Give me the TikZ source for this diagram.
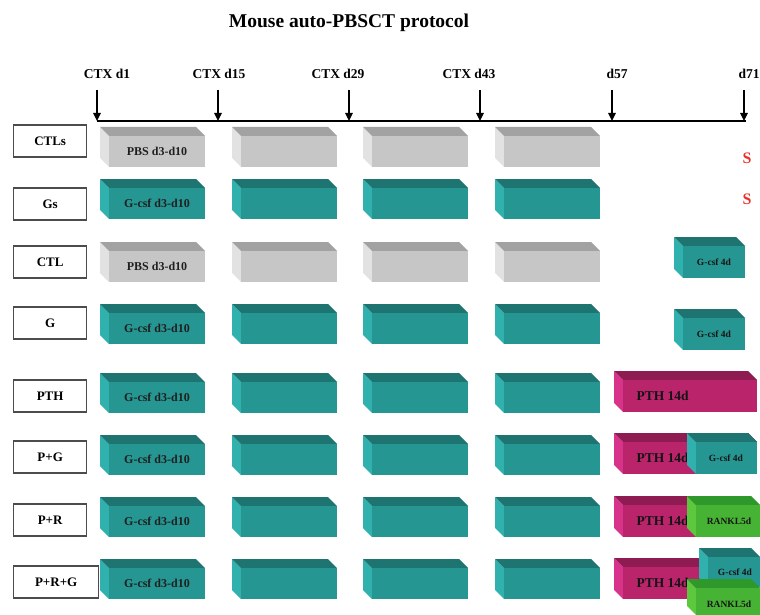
\documentclass[tikz,border=0pt]{standalone}
\usepackage{fontspec}
\setmainfont{Liberation Serif}
\usetikzlibrary{arrows.meta,positioning}
\definecolor{grayfront}{HTML}{C6C6C6}
\definecolor{graytop}{HTML}{A2A2A2}
\definecolor{grayside}{HTML}{E2E2E2}
\definecolor{tealfront}{HTML}{269692}
\definecolor{tealtop}{HTML}{1D7471}
\definecolor{tealside}{HTML}{31B1AE}
\definecolor{pinkfront}{HTML}{B9246B}
\definecolor{pinktop}{HTML}{8E1B51}
\definecolor{pinkside}{HTML}{D7338A}
\definecolor{greenfront}{HTML}{47B335}
\definecolor{greentop}{HTML}{2E982B}
\definecolor{greenside}{HTML}{5DC83E}
\definecolor{sred}{HTML}{E8312A}
\tikzset{
  rowlbl/.style={draw=black!70, line width=1.3pt, fill=white, minimum height=32pt,
    inner sep=0pt, anchor=west, font=\fontsize{13}{15}\selectfont\bfseries},
  daylbl/.style={anchor=base, font=\fontsize{13.5}{16}\selectfont\bfseries},
  slabtxt/.style={text=black!88, font=\fontsize{12}{14}\selectfont\bfseries},
  bigtxt/.style={text=black!92, anchor=west, font=\fontsize{13.5}{16}\selectfont\bfseries},
  smalltxt/.style={text=black!92, font=\fontsize{9.5}{11}\selectfont\bfseries},
  dayarrow/.style={line width=1.6pt, -{Triangle[length=8pt,width=7.5pt]}}
}
% block seen from upper left: x, top y, width, height, colour
\newcommand{\drawslab}[5]{%
  \fill[#5side] (#1,#2) -- (#1+9,#2+9) -- (#1+9,#2+#4) -- (#1,#2+#4-9) -- cycle;
  \fill[#5top] (#1,#2) -- (#1+#3-9,#2) -- (#1+#3,#2+9) -- (#1+9,#2+9) -- cycle;
  \fill[#5front] (#1+9,#2+9) rectangle (#1+#3,#2+#4);
}

\begin{document}
\begin{tikzpicture}[x=1pt,y=-1pt]
  \useasboundingbox (0,0) rectangle (760,615);
  \node[anchor=base, font=\fontsize{19.5}{22}\selectfont\bfseries] (title) at (349,28) {Mouse auto-PBSCT protocol};

  % time line
  \coordinate (t0) at (97,121);
  \coordinate (tend) at (746,121);
  \draw[line width=2.2pt] (t0) -- (tend);
  \foreach \x/\lx/\lab [count=\i] in {97/107/CTX d1,218/219/CTX d15,349/338/CTX d29,480/469/CTX d43,612/617/d57,744/749/d71}{
    \node[daylbl] (day\i) at (\lx,79) {\lab};
    \coordinate (from\i) at (\x,90);
    \coordinate (to\i) at (\x,121);
    \draw[dayarrow] (from\i) -- (to\i);
  }

  % groups
  \foreach \nm/\lab/\lw/\ly/\yt/\col/\txt in {
      ctls/CTLs/73/141/127/gray/PBS d3-d10,
      gs/Gs/73/204/179/teal/G-csf d3-d10,
      ctl/CTL/73/262/242/gray/PBS d3-d10,
      g/G/73/323/304/teal/G-csf d3-d10,
      pth/PTH/73/396/373/teal/G-csf d3-d10,
      pg/P+G/73/457/435/teal/G-csf d3-d10,
      pr/P+R/73/520/497/teal/G-csf d3-d10,
      prg/P+R+G/85/582/559/teal/G-csf d3-d10}{
    \node[rowlbl, minimum width=\lw pt] (\nm) at (13,\ly) {\lab};
    \foreach \x in {100,232,363,495}{
      \drawslab{\x}{\yt}{105}{40}{\col}
    }
    \node[slabtxt] (\nm-txt) at (157,\yt+24.5) {\txt};
  }

  % end of protocol
  \node[text=sred, font=\fontsize{16}{18}\selectfont\bfseries] (s1) at (747,158) {S};
  \node[text=sred, font=\fontsize{16}{18}\selectfont\bfseries] (s2) at (747,199) {S};

  \drawslab{674}{237}{71}{41}{teal}
  \node[smalltxt] (ctl-g) at (714,262) {G-csf 4d};
  \drawslab{674}{309}{71}{41}{teal}
  \node[smalltxt] (g-g) at (714,334) {G-csf 4d};

  \drawslab{614}{371}{143}{41}{pink}
  \node[bigtxt] (pth-p) at (633,396) {PTH 14d};

  \drawslab{614}{433}{143}{41}{pink}
  \node[bigtxt] (pg-p) at (633,458) {PTH 14d};
  \drawslab{687}{433}{70}{41}{teal}
  \node[smalltxt] (pg-g) at (726,458) {G-csf 4d};

  \drawslab{614}{496}{143}{41}{pink}
  \node[bigtxt] (pr-p) at (633,521) {PTH 14d};
  \drawslab{687}{496}{73}{41}{green}
  \node[smalltxt] (pr-r) at (729,521) {RANKL5d};

  \drawslab{614}{558}{143}{41}{pink}
  \node[bigtxt] (prg-p) at (633,583) {PTH 14d};
  \drawslab{699}{548}{61}{39}{teal}
  \node[smalltxt] (prg-g) at (735,572) {G-csf 4d};
  \drawslab{687}{579}{73}{36}{green}
  \node[smalltxt] (prg-r) at (729,604) {RANKL5d};
\end{tikzpicture}
\end{document}
